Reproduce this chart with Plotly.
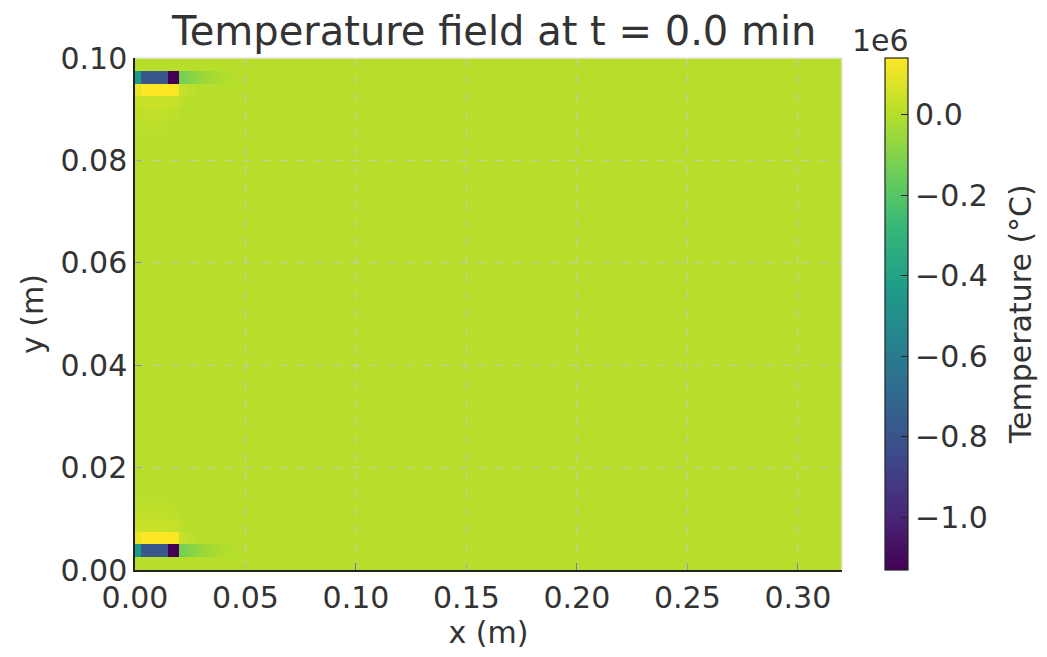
import numpy as np
import plotly.graph_objects as go

# ---------------- data ----------------
dx = 0.0025
nx, ny = 128, 40
background = 20.0

# hot-spot rows (values in °C), starting at column 0
dark_row = [-0.45e6, -0.78e6, -0.79e6, -0.79e6, -0.79e6, -0.78e6, -1.13e6, -1.13e6,
            -0.13e6, -0.11e6, -0.09e6, -0.07e6, -0.055e6, -0.04e6, -0.028e6, -0.018e6,
            -0.010e6, -0.005e6]
yellow_row = [0.10e6, 0.135e6, 0.14e6, 0.14e6, 0.14e6, 0.14e6, 0.135e6, 0.13e6,
              0.035e6, 0.02e6, 0.01e6]
warm_row1 = [0.035e6, 0.04e6, 0.04e6, 0.04e6, 0.04e6, 0.04e6, 0.035e6, 0.03e6, 0.012e6]
warm_row2 = [0.015e6, 0.02e6, 0.02e6, 0.02e6, 0.02e6, 0.018e6, 0.015e6, 0.012e6]
warm_row3 = [0.006e6, 0.008e6, 0.008e6, 0.008e6, 0.007e6, 0.006e6]

x_ticks = [0.00, 0.05, 0.10, 0.15, 0.20, 0.25, 0.30]
y_ticks = [0.00, 0.02, 0.04, 0.06, 0.08, 0.10]
cb_ticks = [0.0, -0.2e6, -0.4e6, -0.6e6, -0.8e6, -1.0e6]
cb_ticktext = ["0.0", "\u22120.2", "\u22120.4", "\u22120.6", "\u22120.8", "\u22121.0"]
zmin, zmax = -1.13e6, 0.14e6

# ---------------- field ----------------
z = np.full((ny, nx), background)
def put(row, vals):
    z[row, :len(vals)] = vals

# top source (rows counted from bottom)
put(38, dark_row); put(37, yellow_row); put(36, warm_row1); put(35, warm_row2); put(34, warm_row3)
# bottom source
put(1, dark_row); put(2, yellow_row); put(3, warm_row1); put(4, warm_row2); put(5, warm_row3)

x = (np.arange(nx) + 0.5) * dx
y = (np.arange(ny) + 0.5) * dx

FONT = "DejaVu Sans"
TXT = "#333333"
FS = 30

fig = go.Figure()
fig.add_trace(go.Heatmap(
    x=x, y=y, z=z, colorscale="Viridis", zmin=zmin, zmax=zmax,
    colorbar=dict(
        x=1.0608, xanchor="left", xpad=0, y=0.5, yanchor="middle", ypad=0,
        len=1.0, lenmode="fraction",
        thickness=23, thicknessmode="pixels",
        outlinecolor="#222222", outlinewidth=1.2,
        tickvals=cb_ticks, ticktext=cb_ticktext,
        ticks="inside", ticklen=7, tickcolor="#222222", tickwidth=1.2,
        tickfont=dict(family=FONT, size=FS, color=TXT),
    ),
    hoverinfo="skip",
))

shapes = []
for xv in x_ticks[1:]:
    shapes.append(dict(type="line", xref="x", yref="y domain", x0=xv, x1=xv, y0=0, y1=1,
                       line=dict(color="rgba(200,200,200,0.9)", width=1, dash="dash"), layer="above"))
for yv in y_ticks[1:-1]:
    shapes.append(dict(type="line", xref="x domain", yref="y", x0=0, x1=1, y0=yv, y1=yv,
                       line=dict(color="rgba(200,200,200,0.9)", width=1, dash="dash"), layer="above"))
# light top/right frame
shapes.append(dict(type="line", xref="x domain", yref="y domain", x0=0, x1=1, y0=1, y1=1,
                   line=dict(color="#e6e6e6", width=1.5), layer="above"))
shapes.append(dict(type="line", xref="x domain", yref="y domain", x0=1, x1=1, y0=0, y1=1,
                   line=dict(color="#e6e6e6", width=1.5), layer="above"))

fig.update_layout(
    width=1039, height=649,
    margin=dict(l=127, r=205, t=50, b=87, autoexpand=False),
    paper_bgcolor="white", plot_bgcolor="white",
    font=dict(family=FONT, color=TXT),
    title=dict(text="Temperature field at t = 0.0 min", x=0.468, xanchor="center",
               y=0.964, yanchor="middle", font=dict(family=FONT, size=40, color=TXT)),
    shapes=shapes,
    annotations=[
        dict(text="1e6", xref="paper", yref="paper", x=1.055, y=1.0, xanchor="center",
             yanchor="bottom", yshift=-2, showarrow=False,
             font=dict(family=FONT, size=FS, color=TXT)),
        dict(text="Temperature (°C)", xref="paper", yref="paper", x=1.252, y=0.5,
             xanchor="center", yanchor="middle", textangle=-90, showarrow=False,
             font=dict(family=FONT, size=FS, color=TXT)),
    ],
)
fig.update_xaxes(
    range=[0, 0.32], tickvals=x_ticks, ticktext=[f"{v:.2f}" for v in x_ticks],
    showgrid=False, zeroline=False, showline=True, linecolor="#222222", linewidth=1.5,
    ticks="inside", ticklen=7, tickwidth=1.2, tickcolor="#222222", layer="above traces",
    tickfont=dict(family=FONT, size=FS, color=TXT),
    title=dict(text="x (m)", font=dict(family=FONT, size=FS, color=TXT), standoff=4),
)
fig.update_yaxes(
    range=[0, 0.10], tickvals=y_ticks, ticktext=[f"{v:.2f}" for v in y_ticks],
    showgrid=False, zeroline=False, showline=True, linecolor="#222222", linewidth=1.5,
    ticks="inside", ticklen=7, tickwidth=1.2, tickcolor="#222222", layer="above traces",
    tickfont=dict(family=FONT, size=FS, color=TXT),
    title=dict(text="y (m)", font=dict(family=FONT, size=FS, color=TXT), standoff=8),
)

fig.write_html("out.html")
